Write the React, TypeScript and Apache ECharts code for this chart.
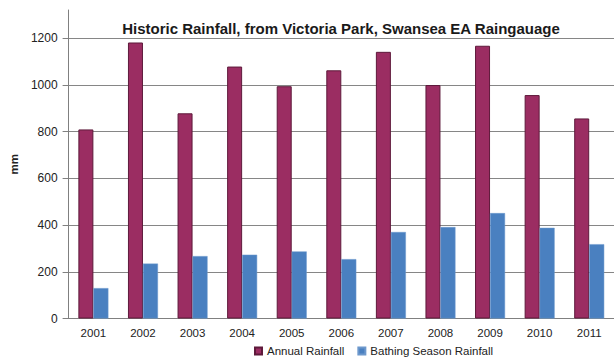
import React, { useEffect, useRef } from "react";
import * as echarts from "echarts";

const years = ["2001", "2002", "2003", "2004", "2005", "2006", "2007", "2008", "2009", "2010", "2011"];
const annualRainfall = [809, 1181, 878, 1078, 994, 1062, 1141, 999, 1167, 956, 856];
const bathingSeasonRainfall = [130, 235, 267, 273, 287, 254, 370, 391, 451, 388, 318];
const titleText = "Historic Rainfall, from Victoria Park, Swansea EA Raingauage";
const yAxisName = "mm";

export default function App() {
  const ref = useRef<HTMLDivElement>(null);
  useEffect(() => {
    if (!ref.current) return;
    const chart = echarts.init(ref.current, null, { renderer: "svg" });
    chart.setOption({
      animation: false,
      backgroundColor: "#ffffff",
      textStyle: { fontFamily: "Liberation Sans, Arial, sans-serif" },
      title: {
        text: titleText,
        left: 336,
        textAlign: "center",
        top: 16,
        textStyle: { fontSize: 15, fontWeight: "bold", color: "#1a1a1a" },
      },
      legend: {
        top: 345,
        left: 254,
        icon: "rect",
        itemWidth: 7,
        itemHeight: 7,
        itemGap: 13,
        padding: 0,
        textStyle: { fontSize: 11.5, color: "#222" },
        data: ["Annual Rainfall", "Bathing Season Rainfall"],
      },
      grid: { left: 64, right: -1, top: 10, bottom: 40.5, containLabel: false },
      xAxis: {
        type: "category",
        data: years,
        axisLine: { show: true, lineStyle: { color: "#808080", width: 1 } },
        axisTick: { show: false },
        axisLabel: { fontSize: 11.5, color: "#222", margin: 8 },
      },
      yAxis: {
        type: "value",
        min: 0,
        max: 1320,
        interval: 200,
        name: yAxisName,
        nameLocation: "middle",
        nameRotate: 90,
        nameGap: 41,
        nameTextStyle: { fontSize: 11.5, fontWeight: "bold", color: "#222" },
        axisLine: { show: true, lineStyle: { color: "#808080", width: 1 } },
        axisTick: { show: true, length: 6, lineStyle: { color: "#808080" } },
        axisLabel: {
          fontSize: 12,
          color: "#222",
          margin: 11,
          showMaxLabel: false,
          formatter: (v: number) => String(v),
        },
        splitLine: { show: true, showMaxLine: false, lineStyle: { color: "#868686", width: 1 } },
      },
      series: [
        {
          name: "Annual Rainfall",
          type: "bar",
          data: annualRainfall,
          barWidth: 15,
          barGap: "0%",
          itemStyle: { color: "#9b2d62", borderColor: "#5e1a3b", borderWidth: 1 },
        },
        {
          name: "Bathing Season Rainfall",
          type: "bar",
          data: bathingSeasonRainfall,
          barWidth: 15,
          itemStyle: { color: "#4a80c0", borderColor: "#6d98cc", borderWidth: 0.5 },
        },
      ],
    });
    return () => chart.dispose();
  }, []);
  return <div ref={ref} style={{ width: 614, height: 359, position: "absolute", left: 0, top: 0 }} />;
}
